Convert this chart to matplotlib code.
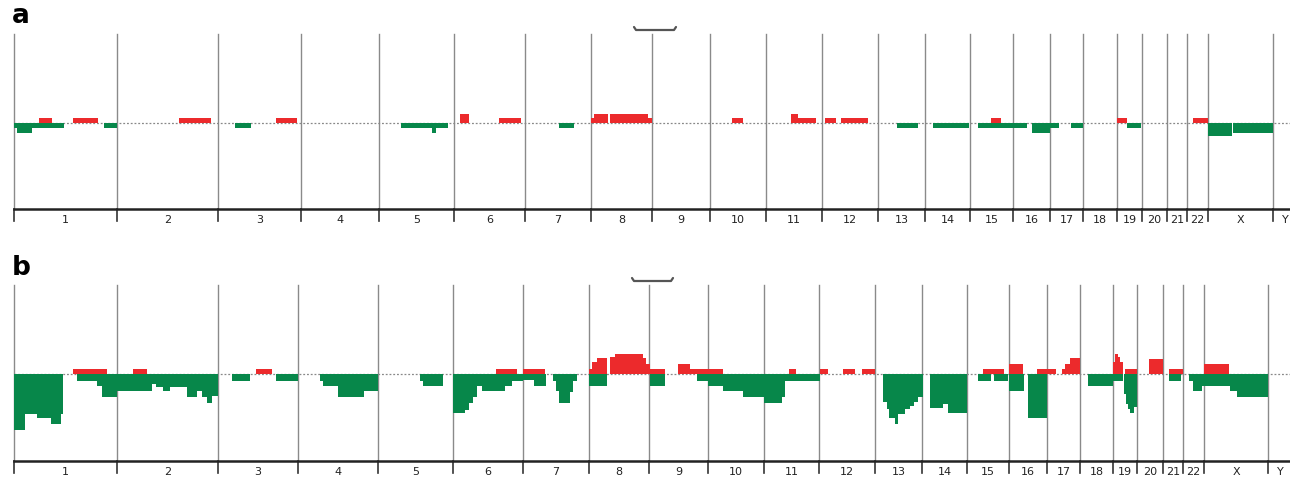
import matplotlib.pyplot as plt

# chromosome names and start positions (plot units) for each panel
chroms = ['1', '2', '3', '4', '5', '6', '7', '8', '9', '10', '11', '12',
          '13', '14', '15', '16', '17', '18', '19', '20', '21', '22', 'X', 'Y']
bounds_a = [14, 117, 218, 301, 379, 454, 525, 591, 652, 710, 766, 822,
            878, 925, 970, 1013, 1050, 1083, 1117, 1142, 1167, 1187, 1208, 1273, 1290]
bounds_b = [14, 117, 218, 298, 378, 453, 523, 589, 649, 708, 764, 819,
            875, 922, 967, 1009, 1047, 1080, 1113, 1137, 1163, 1183, 1204, 1268, 1290]

# segments: (start, end, level)
gain_a = [(39, 52, 5), (73, 98, 5), (179, 211, 5), (276, 297, 5), (460, 469, 9),
          (499, 521, 5), (591, 594, 5), (594, 608, 9), (610, 648, 9), (648, 652, 5),
          (732, 743, 5), (791, 798, 9), (798, 816, 5), (825, 836, 5), (841, 868, 5),
          (991, 1001, 5), (1117, 1127, 5), (1193, 1208, 5)]
loss_a = [(14, 17, -5), (17, 32, -10), (32, 64, -5), (104, 117, -5), (235, 251, -5),
          (401, 432, -5), (432, 436, -10), (436, 448, -5), (559, 574, -5),
          (897, 918, -5), (933, 969, -5), (978, 1027, -5), (1032, 1050, -10),
          (1050, 1059, -5), (1071, 1083, -5), (1127, 1141, -5), (1208, 1232, -13),
          (1233, 1273, -10)]

gain_b = [(73, 107, 5), (133, 147, 5), (256, 272, 5), (496, 517, 5), (523, 545, 5),
          (589, 592, 5), (592, 597, 12), (597, 607, 16), (610, 615, 17), (615, 643, 20),
          (643, 646, 16), (646, 650, 10), (650, 665, 5), (678, 690, 10), (690, 708, 5),
          (708, 723, 5), (789, 796, 5), (820, 828, 5), (843, 855, 5), (862, 875, 5),
          (983, 1004, 5), (1009, 1023, 10), (1037, 1056, 5), (1062, 1065, 5),
          (1065, 1070, 10), (1070, 1080, 16), (1113, 1115, 12), (1115, 1118, 20),
          (1118, 1120, 17), (1120, 1123, 12), (1125, 1137, 5), (1149, 1163, 15),
          (1169, 1183, 5), (1204, 1229, 10)]
loss_b = [(14, 25, -56), (25, 37, -40), (37, 51, -44), (51, 61, -50), (61, 63, -40),
          (77, 97, -7), (97, 102, -12), (102, 117, -23), (117, 152, -17), (152, 156, -10),
          (156, 163, -13), (163, 170, -17), (170, 187, -13), (187, 197, -23),
          (197, 202, -17), (202, 207, -23), (207, 212, -29), (212, 218, -22),
          (232, 250, -7), (276, 298, -7), (320, 323, -7), (323, 338, -12), (338, 364, -23),
          (364, 378, -17), (420, 423, -7), (423, 443, -12), (453, 465, -39),
          (465, 469, -36), (469, 473, -29), (473, 477, -23), (477, 482, -12),
          (482, 505, -17), (505, 512, -12), (512, 523, -7), (523, 534, -6), (534, 546, -12),
          (553, 556, -7), (556, 559, -17), (559, 570, -29), (570, 573, -18), (573, 577, -7),
          (589, 607, -12), (650, 665, -12), (697, 708, -7), (708, 723, -12),
          (723, 743, -17), (743, 760, -23), (760, 764, -23), (764, 782, -29),
          (782, 785, -23), (785, 820, -7), (883, 887, -28), (887, 889, -35),
          (889, 895, -44), (895, 898, -50), (898, 905, -40), (905, 910, -35),
          (910, 914, -32), (914, 918, -28), (918, 923, -23), (930, 943, -34),
          (943, 948, -30), (948, 967, -39), (978, 991, -7), (994, 1008, -7),
          (1009, 1024, -17), (1028, 1047, -44), (1088, 1113, -12), (1113, 1123, -7),
          (1124, 1126, -20), (1126, 1128, -30), (1128, 1130, -35), (1130, 1134, -39),
          (1134, 1137, -33), (1169, 1181, -7), (1189, 1193, -7), (1193, 1202, -17),
          (1202, 1230, -12), (1230, 1237, -17), (1237, 1268, -23)]

# bracket over chromosome 9 (start, end)
bracket_a = (634, 676)
bracket_b = (632, 673)

RED = '#ec2a2c'
GREEN = '#07874a'

fig = plt.figure(figsize=(12.9, 4.81), dpi=100)


def draw_panel(rect, ylim, bounds, gain, loss, bracket, label, top, axis_y):
    ax = fig.add_axes(rect)
    ax.set_xlim(0, 1290)
    ax.set_ylim(*ylim)
    ax.axis('off')

    # chromosome separators
    for b in bounds[:-1]:
        ax.plot([b, b], [axis_y, top], color='#8a8a8a', lw=1, zorder=1)
        ax.plot([b, b], [axis_y - 12, axis_y], color='#333333', lw=1.2, zorder=1)

    # baseline and axis
    ax.plot([bounds[0], 1290], [0, 0], color='#888888', lw=0.9, ls=(0, (1.5, 1.5)), zorder=2)
    ax.plot([bounds[0], 1290], [axis_y, axis_y], color='#222222', lw=1.8, zorder=3)

    for s, e, v in gain:
        ax.bar(s, v, width=e - s, align='edge', color=RED, lw=0, zorder=4)
    for s, e, v in loss:
        ax.bar(s, v, width=e - s, align='edge', color=GREEN, lw=0, zorder=4)

    for i, name in enumerate(chroms):
        mid = (bounds[i] + bounds[i + 1]) / 2
        if name == 'Y':
            mid = bounds[i] + 12
        ax.text(mid, axis_y - 10, name, ha='center', va='center', fontsize=8,
                family='DejaVu Sans', color='#222222')

    b0, b1 = bracket
    ax.plot([b0, b0 + 2, b1 - 2, b1], [top + 7, top + 4, top + 4, top + 7],
            color='#555555', lw=1.6, solid_capstyle='round', zorder=3)

    fig.text(12 / 1290, 1 - (label[1]) / 481, label[0], fontsize=19, fontweight='bold',
             ha='left', va='center', family='DejaVu Sans')


# panel a: pixel rows 20..235, baseline at 124
draw_panel([0, 1 - 235 / 481, 1, 215 / 481], (124 - 235, 124 - 20), bounds_a,
           gain_a, loss_a, bracket_a, ('a', 16), 89, -86)
# panel b: pixel rows 272..481, baseline at 375
draw_panel([0, 0, 1, 209 / 481], (375 - 481, 375 - 272), bounds_b,
           gain_b, loss_b, bracket_b, ('b', 268), 89, -87)

fig.savefig('out.png', dpi=100)
